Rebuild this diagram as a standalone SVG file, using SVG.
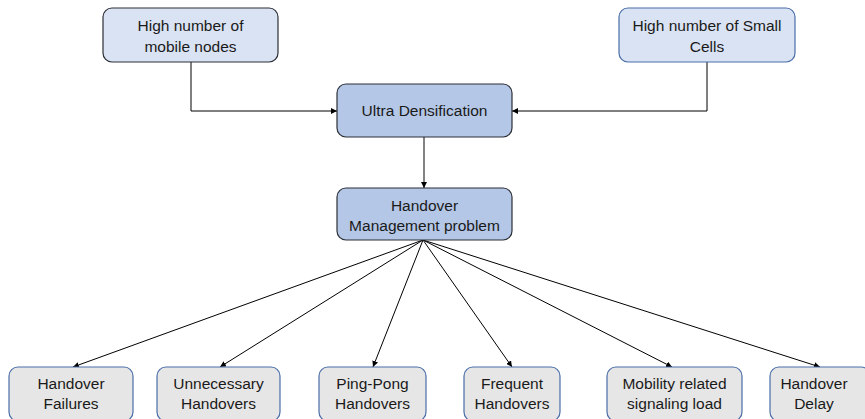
<svg xmlns="http://www.w3.org/2000/svg" width="865" height="419" viewBox="0 0 865 419">
  <defs>
    <marker id="arrow" viewBox="0 0 10 10" refX="10" refY="5" markerWidth="6" markerHeight="6" orient="auto" markerUnits="userSpaceOnUse">
      <path d="M0,0 L10,5 L0,10 z" fill="#000"/>
    </marker>
    <style>
      .box rect { stroke-width: 1.2; }
      .top rect { fill: #dae3f3; }
      .mid rect { fill: #b4c7e7; stroke: #2b2f36; }
      .leaf rect { fill: #e7e6e6; stroke: #4a6ea8; }
      .dark rect { stroke: #2b2f36; }
      .blue rect { stroke: #4a6ea8; }
      text { font-family: "Liberation Sans", Arial, sans-serif; font-size: 15.5px; fill: #1a1a1a; text-anchor: middle; }
      .conn line, .conn polyline { stroke: #000; stroke-width: 1; fill: none; marker-end: url(#arrow); }
    </style>
  </defs>
  <rect width="865" height="419" fill="#fff"/>

  <!-- connectors -->
  <g id="connectors" class="conn">
    <polyline points="191,62 191,111 337,111"/>
    <polyline points="707,62 707,111 512,111"/>
    <line x1="424" y1="137" x2="424" y2="188" style="stroke:#404040;stroke-width:1.3"/>
    <line x1="423" y1="240" x2="73" y2="367"/>
    <line x1="423" y1="240" x2="220" y2="367"/>
    <line x1="423" y1="240" x2="373" y2="367"/>
    <line x1="423" y1="240" x2="512" y2="367"/>
    <line x1="423" y1="240" x2="672" y2="367"/>
    <line x1="423" y1="240" x2="820" y2="367"/>
  </g>

  <!-- top inputs -->
  <g id="mobile-nodes" class="box top dark">
    <rect x="103" y="8" width="175" height="54" rx="9"/>
    <text x="190.5" y="30.5">High number of</text>
    <text x="190.5" y="51.5">mobile nodes</text>
  </g>
  <g id="small-cells" class="box top blue">
    <rect x="619" y="8" width="176" height="54" rx="9"/>
    <text x="707" y="30.5">High number of Small</text>
    <text x="707" y="51.5">Cells</text>
  </g>

  <!-- centre chain -->
  <g id="ultra-densification" class="box mid">
    <rect x="337" y="84" width="175" height="53" rx="9"/>
    <text x="424.5" y="115.5">Ultra Densification</text>
  </g>
  <g id="handover-management" class="box mid">
    <rect x="337" y="188" width="175" height="52" rx="9"/>
    <text x="424.5" y="210.5">Handover</text>
    <text x="424.5" y="230.5">Management problem</text>
  </g>

  <!-- consequences -->
  <g id="handover-failures" class="box leaf">
    <rect x="9" y="367" width="124" height="54" rx="9"/>
    <text x="71" y="388.5">Handover</text>
    <text x="71" y="408.5">Failures</text>
  </g>
  <g id="unnecessary-handovers" class="box leaf">
    <rect x="157" y="367" width="123" height="54" rx="9"/>
    <text x="218.5" y="388.5">Unnecessary</text>
    <text x="218.5" y="408.5">Handovers</text>
  </g>
  <g id="ping-pong-handovers" class="box leaf">
    <rect x="319" y="367" width="107" height="54" rx="9"/>
    <text x="372.5" y="388.5">Ping-Pong</text>
    <text x="372.5" y="408.5">Handovers</text>
  </g>
  <g id="frequent-handovers" class="box leaf">
    <rect x="464" y="367" width="96" height="54" rx="9"/>
    <text x="512" y="388.5">Frequent</text>
    <text x="512" y="408.5">Handovers</text>
  </g>
  <g id="signaling-load" class="box leaf">
    <rect x="607" y="367" width="135" height="54" rx="9"/>
    <text x="674.5" y="388.5">Mobility related</text>
    <text x="674.5" y="408.5">signaling load</text>
  </g>
  <g id="handover-delay" class="box leaf">
    <rect x="770" y="367" width="100" height="54" rx="9"/>
    <text x="814" y="388.5">Handover</text>
    <text x="814" y="408.5">Delay</text>
  </g>
</svg>
